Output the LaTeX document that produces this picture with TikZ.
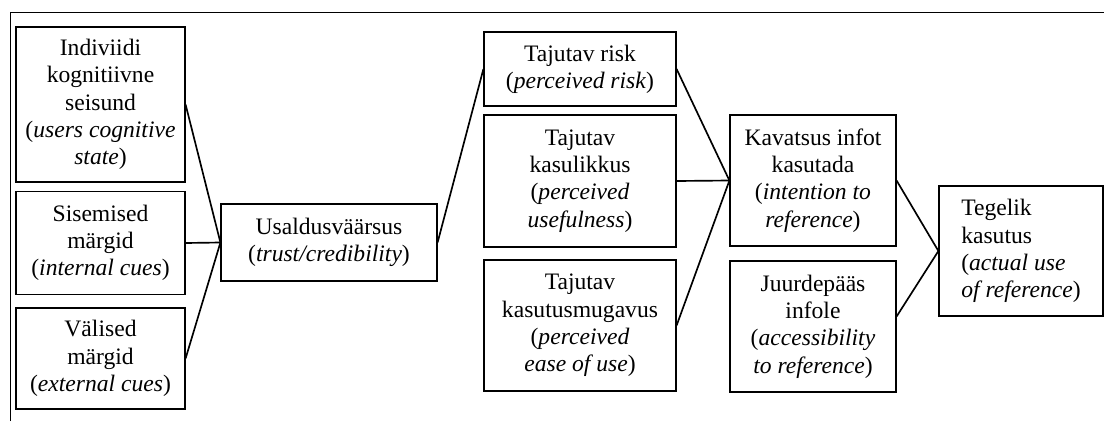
\documentclass[tikz,border=0pt]{standalone}
\usepackage{fontspec}
\setmainfont{Liberation Serif}
\begin{document}
\begin{tikzpicture}[x=0.5085pt,y=-0.5085pt,
  box/.style 2 args={draw, line width=0.6pt, inner sep=0pt, align=center,
    minimum width={#1*0.5085pt}, minimum height={#2*0.5085pt},
    font=\fontsize{12}{13.85}\selectfont},
  link/.style={line width=0.85pt},
  frame/.style={line width=1pt}]
\useasboundingbox (0,0) rectangle (1104,421);
\draw[frame] (10.5,421) -- (10.5,12.5) -- (1104,12.5);

\node[box={169}{155}] (b1) at (100.5,104.5) {Indiviidi\\kognitiivne\\seisund\\(\textit{users cognitive}\\\textit{state})};
\node[box={169}{103}] (b2) at (100.5,243) {Sisemised\\märgid\\(\textit{internal cues})};
\node[box={169}{101}] (b3) at (100.5,358.5) {Välised\\märgid\\(\textit{external cues})};
\node[box={216}{77}] (u) at (329,242.5) {Usaldusväärsus\\(\textit{trust/credibility})};
\node[box={192}{74}] (r1) at (580,69) {Tajutav risk\\(\textit{perceived risk})};
\node[box={192}{132}] (r2) at (580,181) {Tajutav\\kasulikkus\\(\textit{perceived}\\\textit{usefulness})};
\node[box={192}{131}] (r3) at (580,325.5) {Tajutav\\kasutusmugavus\\(\textit{perceived}\\\textit{ease of use})};
\node[box={166}{131}] (k) at (813,180.5) {Kavatsus infot\\kasutada\\(\textit{intention to}\\\textit{reference})};
\node[box={166}{131}] (j) at (813,326.5) {Juurdepääs\\infole\\(\textit{accessibility}\\\textit{to reference})};
\node[box={164}{130}, align=left] (t) at (1021,251) {Tegelik\\kasutus\\(\textit{actual use}\\\textit{of reference})};

\draw[link] (b1.east) -- (u.west);
\draw[link] (b2.east) -- (u.west);
\draw[link] (b3.east) -- (u.west);
\draw[link] (u.east) -- (r1.west);
\draw[link] (r1.east) -- (k.west);
\draw[link] (r2.east) -- (k.west);
\draw[link] (r3.east) -- (k.west);
\draw[link] (k.east) -- (t.west);
\draw[link] ([yshift=5.1pt]j.east) -- (t.west);
\end{tikzpicture}
\end{document}
